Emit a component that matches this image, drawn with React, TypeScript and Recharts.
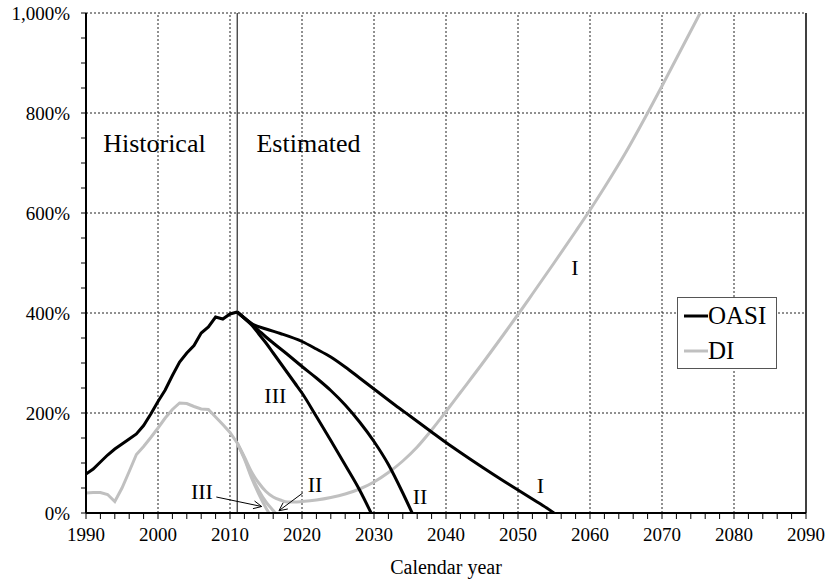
import React from 'react';
import { LineChart, Line, XAxis, YAxis, ReferenceLine, ReferenceDot, Legend } from 'recharts';

const FONT = '"Liberation Serif", "Times New Roman", Times, serif';
const BLACK = '#000000';
const GRAY = '#c0c0c0';

// ---------- data ----------
const oasiHistYears = [1990, 1991, 1992, 1993, 1994, 1995, 1996, 1997, 1998, 1999, 2000, 2001, 2002, 2003, 2004, 2005, 2006, 2007, 2008, 2009, 2010, 2011];
const oasiHistValues = [78, 88, 102, 116, 128, 138, 148, 158, 175, 198, 223, 246, 275, 302, 320, 335, 360, 372, 392, 388, 398, 402];

const oasiIYears = [2011, 2012, 2013, 2015, 2017, 2020, 2022, 2024, 2026, 2028, 2030, 2033, 2035, 2038, 2040, 2042, 2045, 2048, 2050, 2052, 2054, 2055];
const oasiIValues = [402, 390, 379, 368, 359, 343, 328, 312, 292, 270, 248, 215, 194, 162, 141, 121, 92, 64, 46, 28, 10, 0];

const oasiIIYears = [2011, 2012, 2013, 2014, 2015, 2016, 2018, 2020, 2022, 2024, 2026, 2028, 2030, 2032, 2034, 2035.3];
const oasiIIValues = [402, 390, 378, 365, 352, 340, 317, 293, 270, 245, 216, 182, 143, 97, 40, 0];

const oasiIIIYears = [2011, 2012, 2013, 2014, 2015, 2016, 2017, 2018, 2019, 2020, 2022, 2024, 2026, 2028, 2029.6];
const oasiIIIValues = [402, 389, 376, 358, 340, 320, 300, 280, 260, 240, 193, 145, 96, 46, 0];

const diHistYears = [1990, 1991, 1992, 1993, 1994, 1995, 1996, 1997, 1998, 1999, 2000, 2001, 2002, 2003, 2004, 2005, 2006, 2007, 2008, 2009, 2010, 2011];
const diHistValues = [40, 41, 41, 37, 23, 50, 83, 117, 133, 151, 170, 190, 207, 220, 219, 213, 208, 207, 192, 177, 161, 140];

const diIYears = [2011, 2012, 2013, 2014, 2015, 2016, 2017, 2018, 2019, 2020, 2022, 2024, 2026, 2028, 2030, 2032, 2034, 2036, 2038, 2040, 2042, 2045, 2048, 2050, 2052, 2055, 2058, 2060, 2062, 2065, 2068, 2070, 2072, 2075.3];
const diIValues = [140, 112, 82, 60, 43, 32, 26, 22, 22, 23, 26, 31, 38, 48, 62, 81, 104, 132, 166, 203, 241, 298, 357, 397, 438, 500, 563, 606, 651, 722, 800, 854, 909, 1000];

const diIIYears = [2011, 2012, 2013, 2014, 2015, 2016, 2016.3];
const diIIValues = [140, 110, 74, 45, 22, 5, 0];

const diIIIYears = [2011, 2012, 2013, 2014, 2015, 2015.4];
const diIIIValues = [140, 108, 70, 38, 10, 0];

const xMajorTicks = [1990, 2000, 2010, 2020, 2030, 2040, 2050, 2060, 2070, 2080, 2090];
const yMajorTicks = [0, 200, 400, 600, 800, 1000];
const xMinorTicks = Array.from({ length: 51 }, (_, i) => 1990 + i * 2);
const yMinorTicks = Array.from({ length: 21 }, (_, i) => i * 50);

const legendItems = [
  { name: 'OASI', color: BLACK },
  { name: 'DI', color: GRAY },
];

const annotations = [
  { text: 'Historical', year: 1999.5, value: 723, size: 26 },
  { text: 'Estimated', year: 2020.9, value: 723, size: 26 },
  { text: 'I', year: 2057.9, value: 477, size: 22 },
  { text: 'III', year: 2016.3, value: 220, size: 22 },
  { text: 'II', year: 2021.8, value: 43, size: 22 },
  { text: 'III', year: 2006.1, value: 28, size: 22 },
  { text: 'II', year: 2036.4, value: 19, size: 22 },
  { text: 'I', year: 2053.1, value: 41, size: 22 },
];

const arrows = [
  { from: { x: 2008.1, y: 32 }, to: { x: 2014.4, y: 13 } },
  { from: { x: 2020.1, y: 40 }, to: { x: 2016.8, y: 4.6 } },
];

const zip = (years: number[], values: number[]) => years.map((year, i) => ({ year, v: values[i] }));

const series = [
  { key: 'oasiHist', data: zip(oasiHistYears, oasiHistValues), color: BLACK, type: 'linear' },
  { key: 'diHist', data: zip(diHistYears, diHistValues), color: GRAY, type: 'linear' },
  { key: 'diI', data: zip(diIYears, diIValues), color: GRAY, type: 'monotone' },
  { key: 'diII', data: zip(diIIYears, diIIValues), color: GRAY, type: 'monotone' },
  { key: 'diIII', data: zip(diIIIYears, diIIIValues), color: GRAY, type: 'monotone' },
  { key: 'oasiI', data: zip(oasiIYears, oasiIValues), color: BLACK, type: 'monotone' },
  { key: 'oasiII', data: zip(oasiIIYears, oasiIIValues), color: BLACK, type: 'monotone' },
  { key: 'oasiIII', data: zip(oasiIIIYears, oasiIIIValues), color: BLACK, type: 'monotone' },
];

const fmtY = (v: number) => (v % 200 === 0 ? `${v.toLocaleString('en-US')}%` : '');
const fmtX = (v: number) => (v % 10 === 0 ? String(v) : '');

const ArrowShape = (props: any) => {
  const { x1, y1, x2, y2 } = props;
  if ([x1, y1, x2, y2].some((n) => typeof n !== 'number' || isNaN(n))) return null;
  const ang = Math.atan2(y2 - y1, x2 - x1);
  const len = 9;
  const spread = 0.45;
  const ax = x2 - len * Math.cos(ang - spread);
  const ay = y2 - len * Math.sin(ang - spread);
  const bx = x2 - len * Math.cos(ang + spread);
  const by = y2 - len * Math.sin(ang + spread);
  return (
    <g>
      <line x1={x1} y1={y1} x2={x2} y2={y2} stroke="#000" strokeWidth={1} />
      <polyline points={`${ax},${ay} ${x2},${y2} ${bx},${by}`} fill="none" stroke="#000" strokeWidth={1} />
    </g>
  );
};

const LegendBox = () => (
  <div
    style={{
      width: 100,
      height: 72,
      boxSizing: 'border-box',
      border: '1px solid #555',
      background: '#fff',
      fontFamily: FONT,
      fontSize: 25,
      color: '#000',
    }}
  >
    {legendItems.map((it) => (
      <div key={it.name} style={{ height: 35, display: 'flex', alignItems: 'center' }}>
        <svg width={30} height={10} style={{ display: 'block' }}>
          <line x1={6} y1={5} x2={30} y2={5} stroke={it.color} strokeWidth={3} />
        </svg>
        <span style={{ lineHeight: '35px' }}>{it.name}</span>
      </div>
    ))}
  </div>
);

export default function App() {
  return (
    <div style={{ position: 'absolute', left: 0, top: 0, width: 826, height: 579, background: '#fff' }}>
      <LineChart
        width={826}
        height={579}
        margin={{ top: 13, right: 20, bottom: 0, left: 0 }}
        style={{ fontFamily: FONT }}
      >
        <XAxis
          dataKey="year"
          type="number"
          domain={[1990, 2090]}
          ticks={xMinorTicks}
          tickFormatter={fmtX}
          interval={0}
          allowDataOverflow
          height={66}
          tickSize={6}
          tickMargin={9}
          axisLine={{ stroke: '#000', strokeWidth: 2 }}
          tickLine={{ stroke: '#000', strokeWidth: 1 }}
          tick={{ fill: '#000', fontSize: 19, fontFamily: FONT }}
          label={{ value: 'Calendar year', position: 'insideBottom', offset: 5, fill: '#000', fontSize: 20, fontFamily: FONT }}
        />
        <YAxis
          type="number"
          domain={[0, 1000]}
          ticks={yMinorTicks}
          tickFormatter={fmtY}
          interval={0}
          allowDataOverflow
          width={86}
          tickSize={5}
          tickMargin={11}
          axisLine={{ stroke: '#000', strokeWidth: 2 }}
          tickLine={{ stroke: '#000', strokeWidth: 1 }}
          tick={{ fill: '#000', fontSize: 19, fontFamily: FONT }}
        />
        {yMajorTicks.filter((v) => v > 0).map((v) => (
          <ReferenceLine key={`gy${v}`} y={v} stroke="#222" strokeWidth={1} strokeDasharray="2 2" />
        ))}
        {xMajorTicks.filter((v) => v > 1990 && v < 2090).map((v) => (
          <ReferenceLine key={`gx${v}`} x={v} stroke="#222" strokeWidth={1} strokeDasharray="2 2" />
        ))}
        <ReferenceLine x={2090} stroke="#000" strokeWidth={1.5} />
        <ReferenceLine x={2011} stroke="#000" strokeWidth={1} />
        {series.map((s) => (
          <Line
            key={s.key}
            data={s.data}
            dataKey="v"
            type={s.type as any}
            stroke={s.color}
            strokeWidth={3}
            dot={false}
            activeDot={false}
            isAnimationActive={false}
            legendType="none"
          />
        ))}
        {arrows.map((a, i) => (
          <ReferenceLine key={`ar${i}`} segment={[a.from, a.to]} shape={ArrowShape} />
        ))}
        {annotations.map((a, i) => (
          <ReferenceDot
            key={`an${i}`}
            x={a.year}
            y={a.value}
            r={0}
            shape={(p: any) => (
              <text x={p.cx} y={p.cy} textAnchor="middle" fontSize={a.size} fontFamily={FONT} fill="#000">
                {a.text}
              </text>
            )}
          />
        ))}
        <Legend
          layout="horizontal"
          align="center"
          verticalAlign="middle"
          content={() => <LegendBox />}
          wrapperStyle={{ left: 677, top: 297, width: 100, height: 72 }}
        />
      </LineChart>
    </div>
  );
}
